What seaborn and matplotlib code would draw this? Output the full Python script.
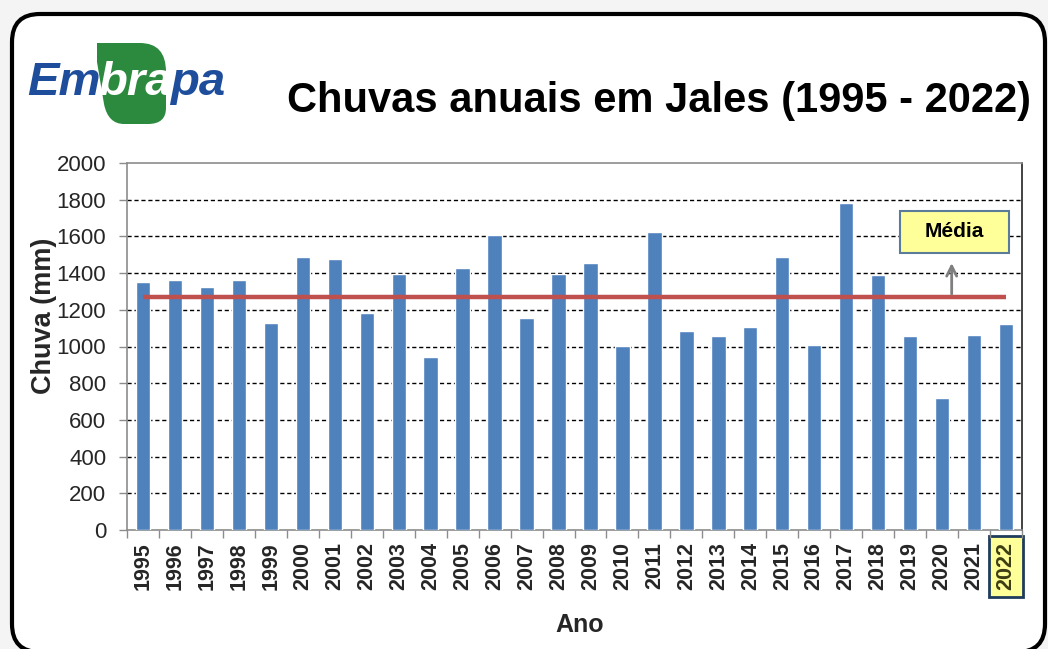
import matplotlib
matplotlib.use("Agg")
import matplotlib.pyplot as plt
import seaborn as sns
from matplotlib.patches import FancyBboxPatch, PathPatch, Rectangle
from matplotlib.path import Path
from matplotlib.transforms import IdentityTransform

# dados
anos = [str(a) for a in range(1995, 2023)]
chuva = [1350, 1360, 1325, 1360, 1128, 1488, 1477, 1183, 1395, 942,
         1428, 1605, 1155, 1395, 1455, 1005, 1624, 1086, 1055, 1106,
         1487, 1010, 1781, 1388, 1055, 717, 1063, 1125]
media = 1270
yticks = [0, 200, 400, 600, 800, 1000, 1200, 1400, 1600, 1800, 2000]

W, H = 1048, 649

sns.set_theme(style="white")
plt.rcParams['font.family'] = ['Liberation Sans', 'DejaVu Sans']


def px(x, y):
    # pixel (origem no topo) -> pixel de tela
    return x, H - y


def main():
    fig = plt.figure(figsize=(W / 100, H / 100), dpi=100)
    fig.patch.set_facecolor('#f4f4f4')
    renderer = fig.canvas.get_renderer()

    # moldura arredondada
    moldura = FancyBboxPatch(px(12, 652), 1033, 638,
                             boxstyle="round,pad=0,rounding_size=28",
                             transform=IdentityTransform(), facecolor='white',
                             edgecolor='black', linewidth=3, zorder=-1)
    fig.add_artist(moldura)

    # logo Embrapa
    verts = [px(97, 43), px(140, 43), px(166, 43), px(166, 72), px(166, 108),
             px(166, 124), px(148, 124), px(124, 124), px(108, 124), px(104, 104),
             px(97, 62), px(97, 43)]
    codes = [Path.MOVETO, Path.LINETO, Path.CURVE3, Path.CURVE3, Path.LINETO,
             Path.CURVE3, Path.CURVE3, Path.LINETO, Path.CURVE3, Path.CURVE3,
             Path.LINETO, Path.CLOSEPOLY]
    folha = PathPatch(Path(verts, codes), transform=IdentityTransform(),
                      facecolor='#2b8a3e', edgecolor='none', zorder=2)
    fig.add_artist(folha)
    lx, ly = px(27, 95)
    for parte, cor in [("Em", '#1e4d9b'), ("bra", 'white'), ("pa", '#1e4d9b')]:
        t = fig.text(lx, ly, parte, transform=IdentityTransform(), fontsize=34,
                     fontweight='bold', fontstyle='italic', color=cor,
                     va='baseline', ha='left', zorder=3)
        lx = t.get_window_extent(renderer).x1 - 2

    tx, ty = px(287, 101)
    fig.text(tx, ty, "Chuvas anuais em Jales (1995 - 2022)", transform=IdentityTransform(),
             fontsize=30, fontweight='bold', color='black', ha='left', va='center')

    ax = fig.add_axes([127 / W, 1 - 530 / H, (1022 - 127) / W, (530 - 163) / H])
    ax.set_facecolor('white')
    sns.barplot(x=anos, y=chuva, color='#4f81bd', saturation=1, width=0.45,
                ax=ax, zorder=3)

    ax.set_ylim(0, 2000)
    ax.set_yticks(yticks)
    for v in yticks[1:-1]:
        ax.axhline(v, color='black', linewidth=1, linestyle=(0, (3, 2)), zorder=1)

    ax.hlines(media, 0, len(anos) - 1, color='#c0504d', linewidth=3.2, zorder=4)

    # caixa "Media" com seta
    ax.add_patch(Rectangle((23.69, 1510), 3.4, 228, facecolor='#ffff99',
                           edgecolor='#5b7c99', linewidth=1.5, zorder=6))
    ax.text(23.69 + 1.7, 1624, "Média", ha='center', va='center', fontsize=15,
            fontweight='bold', color='black', zorder=7)
    ax.annotate("", xy=(25.3, 1470), xytext=(25.3, media),
                arrowprops=dict(arrowstyle='->', color='#7f7f7f', lw=2,
                                mutation_scale=18), zorder=5)

    for lado in ['left', 'bottom', 'top']:
        ax.spines[lado].set_color('#8c8c8c')
        ax.spines[lado].set_linewidth(1.2)
    ax.spines['right'].set_color('#222222')
    ax.spines['right'].set_linewidth(1.2)

    ax.set_xticks([i + 0.5 for i in range(-1, len(anos))], minor=True)
    ax.tick_params(axis='x', which='minor', direction='out', length=6,
                   color='#8c8c8c', width=1, bottom=True)
    ax.tick_params(axis='x', which='major', length=0, pad=9, labelsize=15.5,
                   labelrotation=90)
    ax.tick_params(axis='y', which='major', direction='out', length=6,
                   color='#8c8c8c', width=1, left=True, pad=9, labelsize=16)
    for lab in ax.get_xticklabels():
        lab.set_fontweight('bold')
    ultimo = ax.get_xticklabels()[-1]
    ultimo.set_color('#3d3d14')
    ultimo.set_bbox(dict(facecolor='#ffff99', edgecolor='#1f3b5c', linewidth=2,
                         boxstyle='square,pad=0.3'))
    ax.set_xlim(-0.5, len(anos) - 0.5)

    ax.set_xlabel("Ano", fontsize=18, fontweight='bold')
    ax.set_ylabel("Chuva (mm)", fontsize=19.5, fontweight='bold')
    ax.xaxis.set_label_coords(0.506, -0.226)
    ax.yaxis.set_label_coords(-0.078, 0.583)

    fig.savefig("out.png", dpi=100, facecolor=fig.get_facecolor())


if __name__ == "__main__":
    main()
